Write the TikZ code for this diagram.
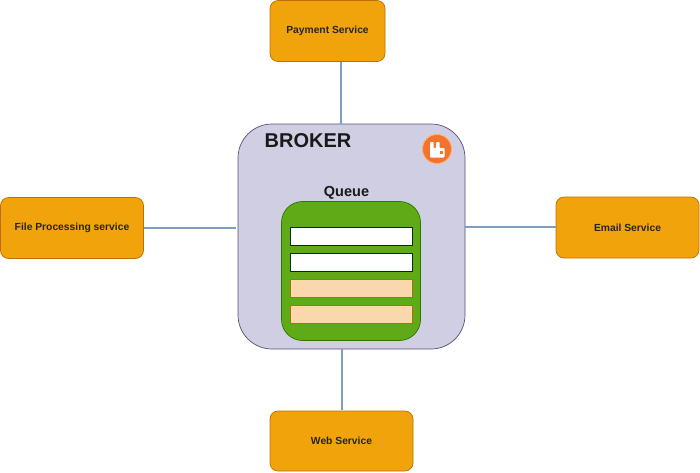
\documentclass[tikz,border=0pt]{standalone}
\usepackage{fontspec}
\setmainfont{Liberation Sans}
\definecolor{svc}{HTML}{F0A30A}
\definecolor{svcb}{HTML}{BD7000}
\definecolor{brk}{HTML}{D0CEE2}
\definecolor{brkb}{HTML}{56517E}
\definecolor{qg}{HTML}{60A917}
\definecolor{qgb}{HTML}{2D7600}
\definecolor{pch}{HTML}{FAD7AC}
\definecolor{link}{HTML}{7F9DBE}
\definecolor{rmq}{HTML}{F4722B}
\tikzset{
 svcbox/.style={draw=svcb,fill=svc,rounded corners=8pt,line width=0.7pt,inner sep=0pt,font=\bfseries\fontsize{10.3}{12}\selectfont,text=black!85},
 slotw/.style={draw=black!80!green,fill=white,line width=0.9pt,minimum width=122pt,minimum height=17.5pt,inner sep=0pt},
 slotp/.style={draw=black!30!svc,fill=pch,line width=0.7pt,minimum width=122pt,minimum height=17.5pt,inner sep=0pt},
 linkln/.style={draw=link,line width=1.4pt}
}
\begin{document}
\begin{tikzpicture}[x=1pt,y=-1pt]
\useasboundingbox (0,0) rectangle (700,472);
\node[svcbox,minimum width=115pt,minimum height=61pt] (pay) at (327.5,31) {Payment Service};
\node[svcbox,minimum width=143pt,minimum height=61pt] (file) at (72,228) {File Processing service};
\node[svcbox,minimum width=143pt,minimum height=61pt] (mail) at (627.5,227.5) {Email Service};
\node[svcbox,minimum width=143pt,minimum height=60pt] (web) at (341.5,441) {Web Service};
\node[draw=brkb,fill=brk,rounded corners=34pt,line width=0.7pt,minimum width=227pt,minimum height=225pt,inner sep=0pt] (broker) at (351.5,236.5) {};
\node[font=\bfseries\fontsize{20}{24}\selectfont,text=black!90] (brklbl) at (308,141) {BROKER};
\node[font=\bfseries\fontsize{14.5}{17}\selectfont,text=black!90] (qlbl) at (346.5,192.5) {Queue};
\node[draw=qgb,fill=qg,rounded corners=21pt,line width=0.7pt,minimum width=139pt,minimum height=139pt,inner sep=0pt] (queue) at (351,271) {};
\node[slotw] (s1) at (351.5,236.5) {};
\node[slotw] (s2) at (351.5,262.5) {};
\node[slotp] (s3) at (351.5,288.5) {};
\node[slotp] (s4) at (351.5,314.5) {};
% connectors
\coordinate (payend) at (341,124);
\coordinate (payst) at (341,62);
\coordinate (filest) at (144,228);
\coordinate (fileend) at (236,228);
\coordinate (mailst) at (556,227);
\coordinate (mailend) at (465,227);
\coordinate (webst) at (342,410);
\coordinate (webend) at (342,349);
\draw[linkln] (payst) -- (payend);
\draw[linkln] (filest) -- (fileend);
\draw[linkln] (mailst) -- (mailend);
\draw[linkln] (webst) -- (webend);
% RabbitMQ icon
\node[circle,fill=rmq,draw=orange!60,line width=0.8pt,minimum size=29pt,inner sep=0pt] (icon) at (437,149) {};
\fill[white,rounded corners=0.8pt] (430,142) -- (433.6,142) -- (433.6,148) -- (436.2,148) -- (436.2,142) -- (439.6,142) -- (439.6,148) -- (444.5,148) -- (444.5,157.5) -- (430,157.5) -- cycle;
\fill[rmq] (439.8,151) rectangle (442.6,153.8);
\end{tikzpicture}
\end{document}
